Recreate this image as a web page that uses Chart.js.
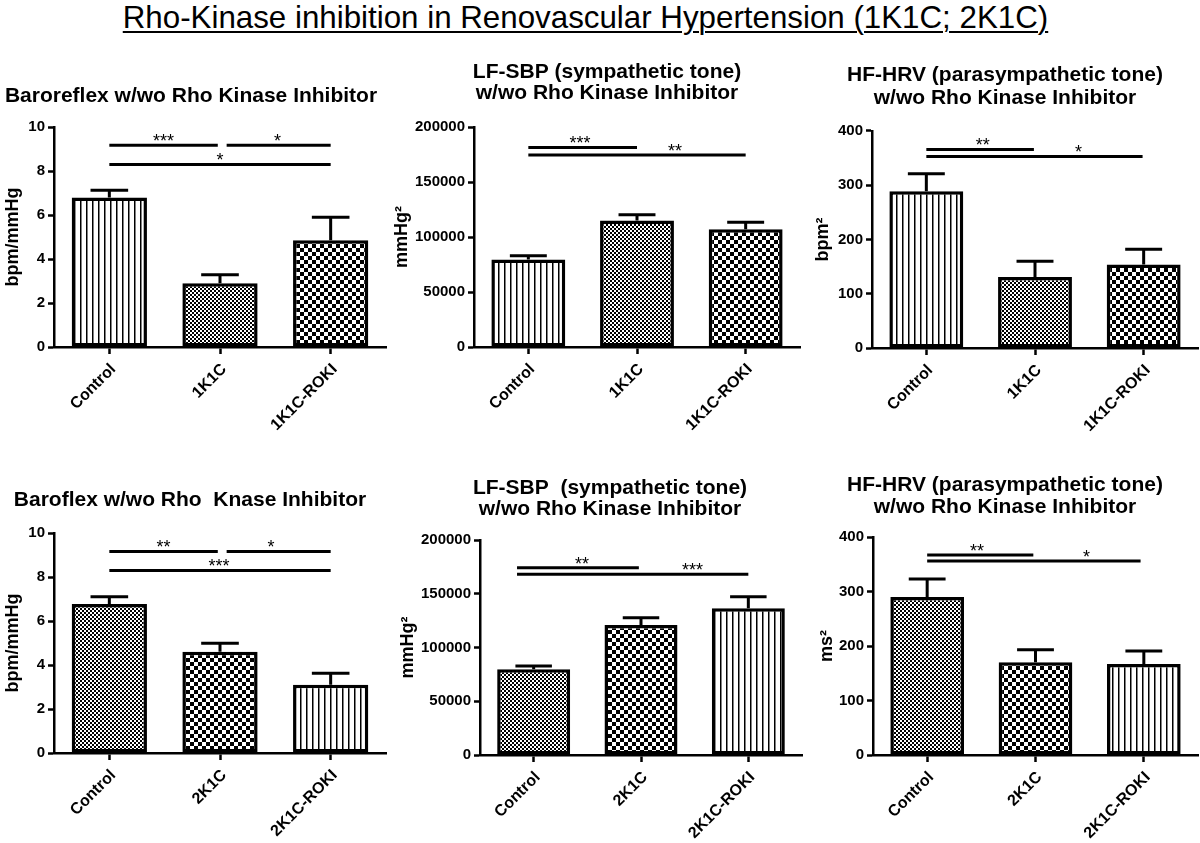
<!DOCTYPE html>
<html>
<head>
<meta charset="utf-8">
<script src="https://cdn.jsdelivr.net/npm/chart.js@4.4.1/dist/chart.umd.min.js"></script>
<style>
  html, body { margin: 0; padding: 0; background: #fff; }
  body { width: 1200px; height: 843px; position: relative; overflow: hidden; font-family: "Liberation Sans", Arial, sans-serif; }
  #mainTitle { position: absolute; left: 0; top: 0; width: 1171px; text-align: center; font-size: 31.3px; line-height: 36px; color: #000;
    text-decoration: underline; text-decoration-thickness: 2px; text-underline-offset: 3px; white-space: nowrap; }
  canvas { position: absolute; }
</style>
</head>
<body>
<div id="mainTitle">Rho-Kinase inhibition in Renovascular Hypertension (1K1C; 2K1C)</div>
<canvas id="p1"></canvas>
<canvas id="p2"></canvas>
<canvas id="p3"></canvas>
<canvas id="p4"></canvas>
<canvas id="p5"></canvas>
<canvas id="p6"></canvas>
<script>
// ---------------- DATA ----------------
const categories1K1C = ['Control', '1K1C', '1K1C-ROKI'];
const categories2K1C = ['Control', '2K1C', '2K1C-ROKI'];

// Top row (1K1C)
const baroreflex1K1C = [6.8, 2.9, 4.85];
const baroreflex1K1CSem = [0.33, 0.38, 1.05];
const lfsbp1K1C = [79500, 115000, 107000];
const lfsbp1K1CSem = [3500, 5300, 6400];
const hfhrv1K1C = [289, 131, 154];
const hfhrv1K1CSem = [32, 29, 28];

// Bottom row (2K1C)
const baroreflex2K1C = [6.77, 4.6, 3.1];
const baroreflex2K1CSem = [0.33, 0.39, 0.53];
const lfsbp2K1C = [79700, 120900, 136500];
const lfsbp2K1CSem = [3100, 6800, 10800];
const hfhrv2K1C = [290, 170, 167];
const hfhrv2K1CSem = [33, 23, 24];

// Y tick labels
const ticksBaro = [0, 2, 4, 6, 8, 10];
const ticksLF = [0, 50000, 100000, 150000, 200000];
const ticksHF = [0, 100, 200, 300, 400];

// Significance brackets: [from category, to category, y value, label, label at category]
const sigBaro1K1C = [[0, 0.98, 9.17, '***', 0.49], [1.06, 2, 9.17, '*', 1.52], [0, 2, 8.3, '*', 1.0]];
const sigLF1K1C = [[0, 1.0, 181400, '***', 0.475], [0, 2, 174500, '**', 1.35]];
const sigHF1K1C = [[0, 0.99, 366, '**', 0.52], [0, 1.99, 353, '*', 1.4]];
const sigBaro2K1C = [[0, 0.98, 9.16, '**', 0.49], [1.06, 2, 9.16, '*', 1.46], [0, 2, 8.3, '***', 0.99]];
const sigLF2K1C = [[-0.155, 0.98, 174200, '**', 0.45], [-0.155, 2, 168100, '***', 1.48]];
const sigHF2K1C = [[0, 0.98, 367, '**', 0.46], [0, 1.97, 356, '*', 1.47]];

// ---------------- STYLE HELPERS ----------------
const FONT = '"Liberation Sans", Arial, Helvetica, sans-serif';

function makePattern(kind) {
  const c = document.createElement('canvas');
  const g = c.getContext('2d');
  if (kind === 'stripe') {
    c.width = 6; c.height = 6;
    g.fillStyle = '#fff'; g.fillRect(0, 0, 6, 6);
    g.fillStyle = '#000'; g.fillRect(0, 0, 1.5, 6);
  } else if (kind === 'fine') {
    c.width = 4; c.height = 4;
    g.fillStyle = '#fff'; g.fillRect(0, 0, 4, 4);
    g.fillStyle = '#000'; g.fillRect(0, 0, 2, 2); g.fillRect(2, 2, 2, 2);
  } else {
    c.width = 8; c.height = 8;
    g.fillStyle = '#fff'; g.fillRect(0, 0, 8, 8);
    g.fillStyle = '#000'; g.fillRect(0, 0, 4, 4); g.fillRect(4, 4, 4, 4);
  }
  return g.createPattern(c, 'repeat');
}

const errSigPlugin = {
  id: 'errsig',
  afterDatasetsDraw(chart, args, o) {
    const ctx = chart.ctx;
    const ys = chart.scales.y, xs = chart.scales.x;
    const meta = chart.getDatasetMeta(0);
    const vals = chart.data.datasets[0].data;
    ctx.save();
    ctx.strokeStyle = '#000';
    ctx.fillStyle = '#000';
    ctx.lineWidth = 3;
    meta.data.forEach((bar, i) => {
      const top = ys.getPixelForValue(vals[i] + o.sem[i]);
      const half = bar.width * 0.25;
      ctx.beginPath();
      ctx.moveTo(bar.x, bar.y);
      ctx.lineTo(bar.x, top);
      ctx.moveTo(bar.x - half, top);
      ctx.lineTo(bar.x + half, top);
      ctx.stroke();
    });
    ctx.font = '18px ' + FONT;
    ctx.textAlign = 'center';
    ctx.textBaseline = 'alphabetic';
    o.sig.forEach(([a, b, v, label, lx]) => {
      const py = ys.getPixelForValue(v);
      ctx.beginPath();
      ctx.moveTo(xs.getPixelForValue(a), py);
      ctx.lineTo(xs.getPixelForValue(b), py);
      ctx.stroke();
      ctx.fillText(label, xs.getPixelForValue(lx), py + 2);
    });
    ctx.restore();
  }
};

function makePanel(p) {
  const cv = document.getElementById(p.id);
  cv.width = p.w; cv.height = p.h;
  cv.style.left = p.left + 'px'; cv.style.top = p.top + 'px';
  cv.style.width = p.w + 'px'; cv.style.height = p.h + 'px';
  const yMin = p.ticks[0], yMax = p.ticks[p.ticks.length - 1];
  new Chart(cv, {
    type: 'bar',
    data: {
      labels: p.labels,
      datasets: [{
        data: p.values,
        backgroundColor: p.patterns.map(makePattern),
        borderColor: '#000',
        borderWidth: 3.5,
        borderSkipped: false,
        barPercentage: 0.68,
        categoryPercentage: 1.0
      }]
    },
    options: {
      responsive: false,
      animation: false,
      devicePixelRatio: 1,
      layout: { padding: { left: p.padL, right: p.padR, top: 0, bottom: 0 } },
      plugins: {
        legend: { display: false },
        tooltip: { enabled: false },
        title: {
          display: true,
          text: p.title,
          color: '#000',
          font: { family: FONT, size: 21, weight: 'bold', lineHeight: p.titleLH },
          padding: { top: p.titlePadTop, bottom: p.titlePadBottom }
        },
        errsig: { sem: p.sem, sig: p.sig }
      },
      scales: {
        x: {
          offset: true,
          afterFit: s => { s.height = p.xHeight; },
          border: { display: true, color: '#000', width: 2.5 },
          grid: { display: true, offset: false, drawOnChartArea: false, drawTicks: true, tickLength: 7, tickWidth: 2.5, tickColor: '#000', color: '#000' },
          ticks: { color: '#000', font: { family: FONT, size: 16, weight: 'bold' }, minRotation: 45, maxRotation: 45, autoSkip: false, padding: 6, labelOffset: 4 }
        },
        y: {
          min: yMin, max: yMax,
          afterFit: s => { s.width = p.yWidth; },
          border: { display: true, color: '#000', width: 2.5 },
          grid: { display: true, drawOnChartArea: false, drawTicks: true, tickLength: 6, tickWidth: 2.5, tickColor: '#000', color: '#000' },
          ticks: {
            color: '#000', font: { family: FONT, size: 15, weight: 'bold' }, padding: 3,
            stepSize: p.ticks[1] - p.ticks[0],
            callback: v => String(v)
          },
          afterBuildTicks: s => { s.ticks = p.ticks.map(v => ({ value: v })); },
          title: {
            display: true, text: p.yTitle, color: '#000',
            font: { family: FONT, size: 18, weight: 'bold', lineHeight: 1.2 },
            padding: { top: p.yTitlePad, bottom: 0 }
          }
        }
      }
    },
    plugins: [errSigPlugin]
  });
}

// ---------------- PANELS ----------------
makePanel({ id: 'p1', left: -4, top: 48, w: 400, h: 412, padL: 0, padR: 10, yWidth: 58, xHeight: 113,
  title: ['Baroreflex w/wo Rho Kinase Inhibitor'], titleLH: 1.2, titlePadTop: 35.4, titlePadBottom: 18.4,
  yTitle: 'bpm/mmHg', yTitlePad: 6.2, labels: categories1K1C, values: baroreflex1K1C, sem: baroreflex1K1CSem,
  ticks: ticksBaro, sig: sigBaro1K1C, patterns: ['stripe', 'fine', 'coarse'] });

makePanel({ id: 'p2', left: 390, top: 48, w: 424, h: 412, padL: 24, padR: 14, yWidth: 60, xHeight: 113,
  title: ['LF-SBP (sympathetic tone)', 'w/wo Rho Kinase Inhibitor'], titleLH: 1.0, titlePadTop: 13.5, titlePadBottom: 23.5,
  yTitle: 'mmHg²', yTitlePad: -22.8, labels: categories1K1C, values: lfsbp1K1C, sem: lfsbp1K1CSem,
  ticks: ticksLF, sig: sigLF1K1C, patterns: ['stripe', 'fine', 'coarse'] });

makePanel({ id: 'p3', left: 800, top: 48, w: 400, h: 412, padL: 12, padR: 2, yWidth: 60, xHeight: 112,
  title: ['HF-HRV (parasympathetic tone)', 'w/wo Rho Kinase Inhibitor'], titleLH: 1.095, titlePadTop: 15.5, titlePadBottom: 21.5,
  yTitle: 'bpm²', yTitlePad: 0.2, labels: categories1K1C, values: hfhrv1K1C, sem: hfhrv1K1CSem,
  ticks: ticksHF, sig: sigHF1K1C, patterns: ['stripe', 'fine', 'coarse'] });

makePanel({ id: 'p4', left: -6, top: 466, w: 402, h: 377, padL: 0, padR: 10, yWidth: 60, xHeight: 90,
  title: ['Baroflex w/wo Rho  Knase Inhibitor'], titleLH: 1.2, titlePadTop: 21.4, titlePadBottom: 20.4,
  yTitle: 'bpm/mmHg', yTitlePad: 8.2, labels: categories2K1C, values: baroreflex2K1C, sem: baroreflex2K1CSem,
  ticks: ticksBaro, sig: sigBaro2K1C, patterns: ['fine', 'coarse', 'stripe'] });

makePanel({ id: 'p5', left: 396, top: 466, w: 420, h: 377, padL: 22, padR: 14, yWidth: 62, xHeight: 88,
  title: ['LF-SBP  (sympathetic tone)', 'w/wo Rho Kinase Inhibitor'], titleLH: 1.0, titlePadTop: 11.8, titlePadBottom: 20.2,
  yTitle: 'mmHg²', yTitlePad: -20.8, labels: categories2K1C, values: lfsbp2K1C, sem: lfsbp2K1CSem,
  ticks: ticksLF, sig: sigLF2K1C, patterns: ['fine', 'coarse', 'stripe'] });

makePanel({ id: 'p6', left: 800, top: 466, w: 400, h: 377, padL: 12, padR: 2, yWidth: 61, xHeight: 88,
  title: ['HF-HRV (parasympathetic tone)', 'w/wo Rho Kinase Inhibitor'], titleLH: 1.048, titlePadTop: 8, titlePadBottom: 19,
  yTitle: 'ms²', yTitlePad: 4.2, labels: categories2K1C, values: hfhrv2K1C, sem: hfhrv2K1CSem,
  ticks: ticksHF, sig: sigHF2K1C, patterns: ['fine', 'coarse', 'stripe'] });
</script>
</body>
</html>
